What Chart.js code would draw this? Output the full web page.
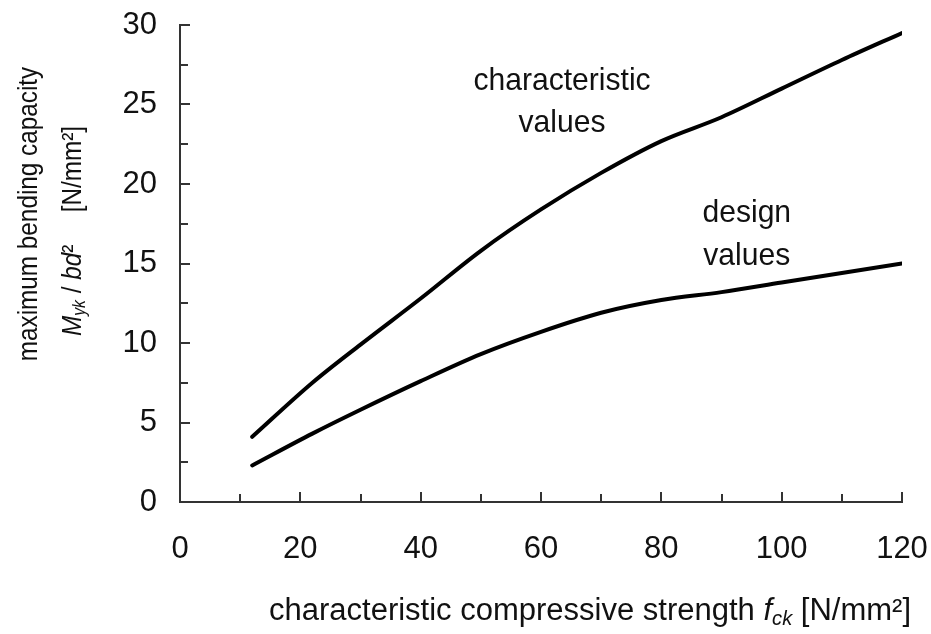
<!DOCTYPE html>
<html>
<head>
<meta charset="utf-8">
<script src="https://cdn.jsdelivr.net/npm/chart.js@4.4.1/dist/chart.umd.min.js"></script>
<style>
  body { margin: 0; background: #fff; }
  #wrap { position: relative; width: 931px; height: 634px; }
  .title {
    position: absolute;
    white-space: nowrap;
    font-family: 'Liberation Sans', Arial, sans-serif;
    color: #111;
    line-height: 1;
  }
  .vt { font-size: 27px; transform: translate(-50%, -50%) rotate(-90deg) scaleX(0.9); }
  #xtitle { font-size: 31px; transform: translate(-50%, -50%); }
  sub { font-size: 0.65em; vertical-align: -0.25em; line-height: 0; }
</style>
</head>
<body>
<div id="wrap">
  <canvas id="chart"></canvas>
  <div class="title vt" style="left:28px; top:214px;">maximum bending capacity</div>
  <div class="title vt" style="left:72px; top:231px;"><i>M</i><sub><i>yk</i></sub> / <i>bd</i>²<span style="margin-left:36px;">[N/mm²]</span></div>
  <div class="title" id="xtitle" style="left:590px; top:609px;">characteristic compressive strength <i>f</i><sub><i>ck</i></sub> [N/mm²]</div>
</div>
<script>
// values
const fck = [12, 22, 30, 40, 50, 60, 70, 80, 90, 100, 110, 120];
const characteristicValues = [4.1, 7.5, 9.9, 12.8, 15.8, 18.4, 20.7, 22.7, 24.2, 26.0, 27.8, 29.5];
const designValues = [2.3, 4.3, 5.8, 7.6, 9.3, 10.7, 11.9, 12.7, 13.2, 13.8, 14.4, 15.0];

const xTickLabels = [0, 20, 40, 60, 80, 100, 120];
const yTickLabels = [0, 5, 10, 15, 20, 25, 30];

Chart.defaults.font.family = "'Liberation Sans', Arial, sans-serif";
Chart.defaults.color = '#111';

// inward tick marks + curve labels
const axisDecor = {
  id: 'axisDecor',
  afterDraw(chart) {
    const { ctx, scales: { x, y } } = chart;
    ctx.save();
    ctx.strokeStyle = '#333';
    ctx.lineWidth = 2;
    y.ticks.forEach(t => {
      if (t.value === 0) return;
      const py = Math.round(y.getPixelForValue(t.value));
      const len = yTickLabels.includes(t.value) ? 10 : 8;
      ctx.beginPath();
      ctx.moveTo(x.left, py);
      ctx.lineTo(x.left + len, py);
      ctx.stroke();
    });
    x.ticks.forEach(t => {
      if (t.value === 0) return;
      const px = Math.round(x.getPixelForValue(t.value));
      const len = xTickLabels.includes(t.value) ? 10 : 8;
      ctx.beginPath();
      ctx.moveTo(px, y.bottom);
      ctx.lineTo(px, y.bottom - len);
      ctx.stroke();
    });

    ctx.fillStyle = '#111';
    ctx.font = "32px 'Liberation Sans', Arial, sans-serif";
    ctx.textAlign = 'center';
    ctx.textBaseline = 'alphabetic';
    const notes = [
      { text: 'characteristic', x: 63.5, y: 25.9 },
      { text: 'values', x: 63.5, y: 23.3 },
      { text: 'design', x: 94.2, y: 17.6 },
      { text: 'values', x: 94.2, y: 14.9 }
    ];
    notes.forEach(n => {
      ctx.save();
      ctx.translate(x.getPixelForValue(n.x), y.getPixelForValue(n.y));
      ctx.scale(0.94, 1);
      ctx.fillText(n.text, 0, 0);
      ctx.restore();
    });
    ctx.restore();
  }
};

new Chart(document.getElementById('chart'), {
  type: 'line',
  data: {
    datasets: [
      {
        label: 'characteristic values',
        data: fck.map((v, i) => ({ x: v, y: characteristicValues[i] })),
        borderColor: '#000',
        borderWidth: 4,
        pointRadius: 0,
        borderCapStyle: 'round',
        cubicInterpolationMode: 'monotone'
      },
      {
        label: 'design values',
        data: fck.map((v, i) => ({ x: v, y: designValues[i] })),
        borderColor: '#000',
        borderWidth: 4,
        pointRadius: 0,
        borderCapStyle: 'round',
        cubicInterpolationMode: 'monotone'
      }
    ]
  },
  options: {
    responsive: true,
    maintainAspectRatio: false,
    animation: false,
    layout: { padding: { top: 25, right: 29, left: 0, bottom: 0 } },
    plugins: {
      legend: { display: false },
      tooltip: { enabled: false }
    },
    scales: {
      x: {
        type: 'linear',
        min: 0,
        max: 120,
        afterFit: s => { s.height = 132; s.paddingLeft = 0; s.paddingRight = 0; },
        grid: { display: false, drawTicks: false },
        border: { display: true, color: '#333', width: 2 },
        ticks: {
          stepSize: 10,
          autoSkip: false,
          maxRotation: 0,
          padding: 29,
          font: { size: 31 },
          callback: v => xTickLabels.includes(v) ? v : ''
        }
      },
      y: {
        min: 0,
        max: 30,
        afterFit: s => { s.width = 180; s.paddingTop = 0; s.paddingBottom = 0; },
        grid: { display: false, drawTicks: false },
        border: { display: true, color: '#333', width: 2 },
        ticks: {
          stepSize: 2.5,
          autoSkip: false,
          padding: 23,
          font: { size: 31 },
          callback: v => yTickLabels.includes(v) ? v : ''
        }
      }
    }
  },
  plugins: [axisDecor]
});
</script>
</body>
</html>
